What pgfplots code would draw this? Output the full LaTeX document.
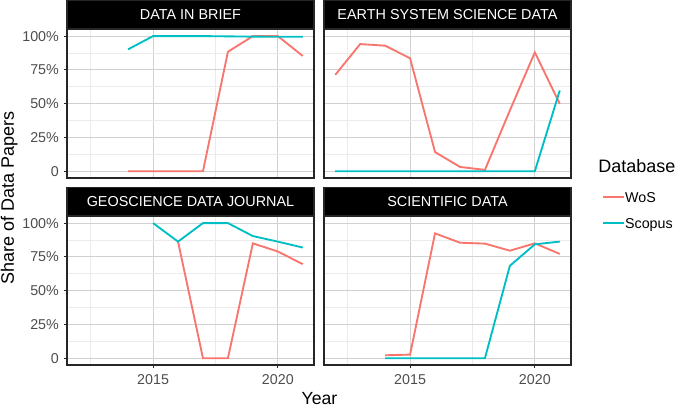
\documentclass[border=0pt]{standalone}
\usepackage{pgfplots}
\pgfplotsset{compat=1.18}
\usepackage{fontspec}
\setmainfont{Liberation Sans}

\definecolor{wos}{HTML}{F8766D}
\definecolor{scopus}{HTML}{00BFC4}
\definecolor{tickgray}{HTML}{4D4D4D}

% one pixel of the reference = 0.75pt
\pgfplotsset{
  panel/.style={
    scale only axis,
    width=185.25pt, height=111.5pt,
    xmin=2011.55, xmax=2021.45,
    ymin=-5, ymax=105,
    xtick={2015,2020}, xticklabels={2015,2020},
    minor xtick={2012.5,2017.5},
    ytick={0,25,50,75,100},
    yticklabels={0,25\%,50\%,75\%,100\%},
    minor ytick={12.5,37.5,62.5,87.5},
    grid=both,
    major grid style={draw=black!18, line width=0.8pt},
    minor grid style={draw=black!8, line width=0.45pt},
    axis line style={draw=black!85, line width=0.8pt},
    tick style={draw=black!85, line width=0.8pt},
    tick align=outside,
    major tick length=2.4pt,
    minor tick length=0pt,
    xtick pos=bottom, ytick pos=left,
    ticklabel style={font=\fontsize{10.7}{12}\selectfont, text=tickgray},
    yticklabel style={inner sep=0pt, xshift=-3.5pt},
    xticklabel style={inner sep=0pt, yshift=-4.5pt},
    every axis title shift=0pt,
    title style={at={(0.5,1)}, anchor=south, fill=black, text=white,
      draw=black!85, line width=0.8pt,
      minimum width=185.25pt, minimum height=21pt, inner sep=0pt, yshift=0pt,
      font=\fontsize{10.8}{12}\selectfont},
    every axis plot/.append style={line width=1.4pt, mark=none},
    clip=false,
  },
  noxlab/.style={xticklabels={}, xtick style={draw=none}},
  noylab/.style={yticklabels={}, ytick style={draw=none}},
}

\begin{document}
\begin{tikzpicture}
\path[use as bounding box] (0pt,0pt) rectangle (513.75pt,-305.25pt);

% DATA IN BRIEF
\begin{axis}[panel, noxlab, title={DATA IN BRIEF}, at={(50.25pt,-133.5pt)}, anchor=south west]
\addplot[wos] coordinates {(2014,0)(2015,0)(2016,0)(2017,0)(2018,88.4)(2019,100)(2020,100)(2021,85.3)};
\addplot[scopus] coordinates {(2014,90.2)(2015,100)(2016,100)(2017,100)(2018,99.8)(2019,99.6)(2020,99.5)(2021,99.5)};
\end{axis}

% EARTH SYSTEM SCIENCE DATA
\begin{axis}[panel, noxlab, noylab, title={EARTH SYSTEM SCIENCE DATA}, at={(243pt,-133.5pt)}, anchor=south west,
  legend style={at={(1.1255,-0.218)}, anchor=west, draw=none, fill=none, inner sep=0pt,
    row sep=12pt, nodes={inner sep=0pt, text depth=0pt, font=\fontsize{10.7}{12}\selectfont},
    /tikz/every even column/.append style={column sep=9.75pt}},
  legend cell align=left,
  legend image code/.code={\draw[#1] (0pt,0pt) -- (15.75pt,0pt);}]
\addplot[wos] coordinates {(2012,71.3)(2013,94.1)(2014,92.9)(2015,83.6)(2016,14.2)(2017,3.2)(2018,1)(2019,45)(2020,88)(2021,49.8)};
\addlegendentry{WoS}
\addplot[scopus] coordinates {(2012,0)(2013,0)(2014,0)(2015,0)(2016,0)(2017,0)(2018,0)(2019,0)(2020,0)(2021,59.8)};
\addlegendentry{Scopus}
\end{axis}

% GEOSCIENCE DATA JOURNAL
\begin{axis}[panel, title={GEOSCIENCE DATA JOURNAL}, at={(50.25pt,-273.75pt)}, anchor=south west]
\addplot[wos] coordinates {(2016,86.3)(2017,0)(2018,0)(2019,85)(2020,79)(2021,69.6)};
\addplot[scopus] coordinates {(2015,100)(2016,86.3)(2017,100)(2018,100)(2019,90.4)(2020,86.3)(2021,81.9)};
\end{axis}

% SCIENTIFIC DATA
\begin{axis}[panel, noylab, title={SCIENTIFIC DATA}, at={(243pt,-273.75pt)}, anchor=south west]
\addplot[wos] coordinates {(2014,2.2)(2015,2.7)(2016,92.4)(2017,85.5)(2018,84.8)(2019,79.6)(2020,85)(2021,77.2)};
\addplot[scopus] coordinates {(2014,0)(2015,0)(2016,0)(2017,0)(2018,0)(2019,68.4)(2020,84.3)(2021,86.3)};
\end{axis}

\node[anchor=base west, inner sep=0pt, font=\fontsize{13.5}{15}\selectfont] at (448.5pt,-129pt) {Database};
\node[anchor=base, inner sep=0pt, font=\fontsize{13.2}{15}\selectfont] at (239.6pt,-303pt) {Year};
\node[rotate=90, anchor=center, inner sep=0pt, font=\fontsize{13.5}{15}\selectfont] at (7pt,-148.5pt) {Share of Data Papers};
\end{tikzpicture}
\end{document}
